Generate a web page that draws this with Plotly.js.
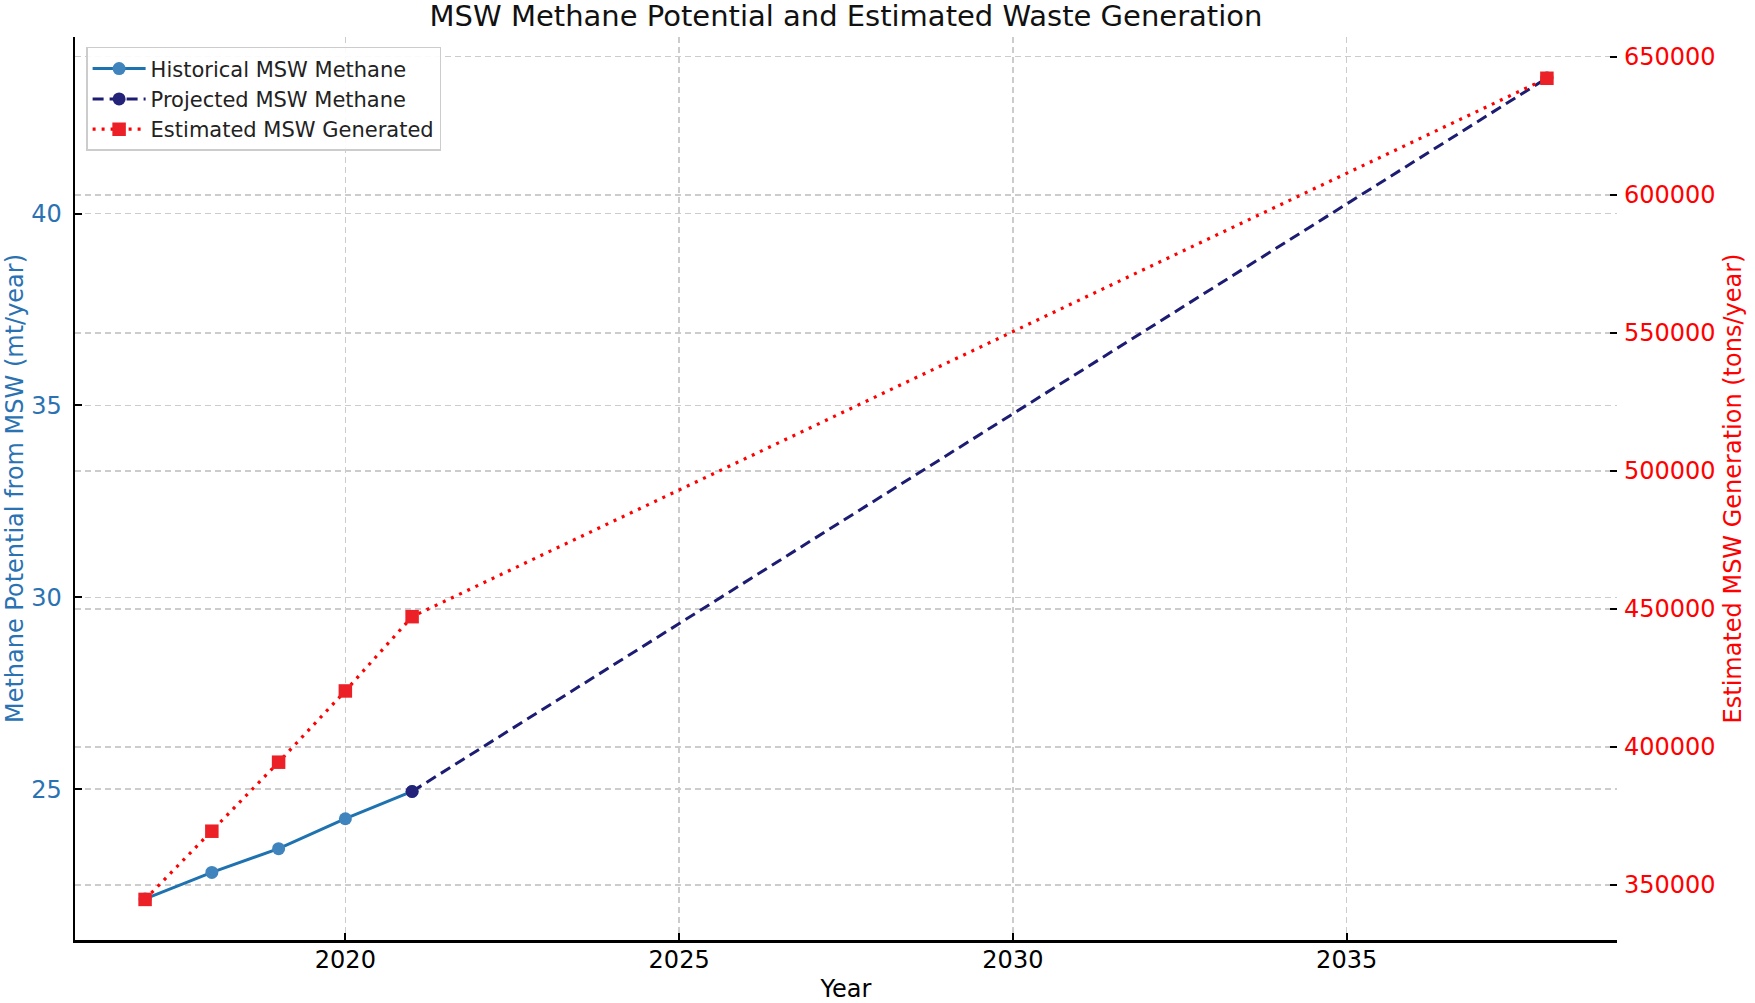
<!DOCTYPE html>
<html>
<head>
<meta charset="utf-8">
<script src="https://cdn.plot.ly/plotly-3.0.1.min.js"></script>
<style>html,body{margin:0;padding:0;background:#fff;}#chart{width:1755px;height:1003px;}</style>
</head>
<body>
<div id="chart"></div>
<script>
// Data
const histYears = [2017, 2018, 2019, 2020, 2021];
const histMethane = [22.14, 22.83, 23.45, 24.23, 24.94];
const projYears = [2021, 2038];
const projMethane = [24.94, 43.53];
const mswYears = [2017, 2018, 2019, 2020, 2021, 2038];
const mswGenerated = [344800, 369500, 394500, 420300, 447200, 642200];
const xTicks = [2020, 2025, 2030, 2035];
const leftTicks = [25, 30, 35, 40];
const rightTicks = [350000, 400000, 450000, 500000, 550000, 600000, 650000];

const FONT = 'DejaVu Sans, Liberation Sans, sans-serif';

const traces = [
  {
    x: histYears, y: histMethane, name: 'Historical MSW Methane',
    type: 'scatter', mode: 'lines+markers',
    line: {color: '#1f72b0', width: 3},
    marker: {symbol: 'circle', size: 13, color: '#3f84bd'},
    yaxis: 'y'
  },
  {
    x: projYears, y: projMethane, name: 'Projected MSW Methane',
    type: 'scatter', mode: 'lines+markers',
    line: {color: '#1c1c72', width: 3, dash: '11px,6px'},
    marker: {symbol: 'circle', size: 13, color: '#23237a'},
    yaxis: 'y'
  },
  {
    x: mswYears, y: mswGenerated, name: 'Estimated MSW Generated',
    type: 'scatter', mode: 'lines+markers',
    line: {color: '#ff0000', width: 3.2, dash: '3px,6px'},
    marker: {symbol: 'square', size: 13.5, color: '#ec2127'},
    yaxis: 'y2'
  }
];

const layout = {
  width: 1755, height: 1003,
  paper_bgcolor: '#ffffff', plot_bgcolor: '#ffffff',
  margin: {l: 75, r: 138, t: 37, b: 63, pad: 0},
  font: {family: FONT, size: 24, color: '#000'},
  showlegend: true,
  title: {
    text: 'MSW Methane Potential and Estimated Waste Generation',
    font: {family: FONT, size: 29, color: '#111'},
    x: 0.5, xref: 'paper', xanchor: 'center',
    y: 0.984, yref: 'container', yanchor: 'middle'
  },
  xaxis: {
    range: [2015.95, 2039.05],
    tickvals: xTicks, ticktext: xTicks.map(String),
    ticks: 'inside', ticklen: 7, tickwidth: 2, tickcolor: '#000',
    ticklabelstandoff: -3,
    tickfont: {family: FONT, size: 24, color: '#000'},
    showline: true, linecolor: '#000', linewidth: 2.5, mirror: false,
    showgrid: true, gridcolor: '#cccccc', gridwidth: 1.5, griddash: '6px,4px',
    zeroline: false,
    title: {text: 'Year', font: {family: FONT, size: 24, color: '#000'}, standoff: 17}
  },
  yaxis: {
    range: [21.07, 44.60],
    tickvals: leftTicks, ticktext: leftTicks.map(String),
    ticks: 'inside', ticklen: 7, tickwidth: 2, tickcolor: '#000',
    ticklabelstandoff: 6,
    tickfont: {family: FONT, size: 24, color: '#2a72b2'},
    showline: true, linecolor: '#000', linewidth: 2.5,
    showgrid: true, gridcolor: '#cccccc', gridwidth: 1.5, griddash: '6px,4px',
    zeroline: false,
    title: {text: 'Methane Potential from MSW (mt/year)', font: {family: FONT, size: 24, color: '#2a72b2'}, standoff: 1}
  },
  yaxis2: {
    range: [330100, 657150],
    overlaying: 'y', side: 'right',
    tickvals: rightTicks, ticktext: rightTicks.map(String),
    ticks: 'inside', ticklen: 7, tickwidth: 2, tickcolor: '#000',
    ticklabelstandoff: 6,
    tickfont: {family: FONT, size: 24, color: '#ff0000'},
    showline: false,
    showgrid: true, gridcolor: '#cccccc', gridwidth: 1.5, griddash: '6px,4px',
    zeroline: false,
    title: {text: 'Estimated MSW Generation (tons/year)', font: {family: FONT, size: 24, color: '#ff0000'}, standoff: 9}
  },
  legend: {
    x: 0.0072, y: 0.989, xanchor: 'left', yanchor: 'top',
    bgcolor: 'rgba(255,255,255,0.9)', bordercolor: '#cccccc', borderwidth: 1.5,
    font: {family: FONT, size: 21, color: '#222'},
    itemwidth: 53, tracegroupgap: 0
  }
};

Plotly.newPlot('chart', traces, layout, {displayModeBar: false, staticPlot: true});
</script>
</body>
</html>
